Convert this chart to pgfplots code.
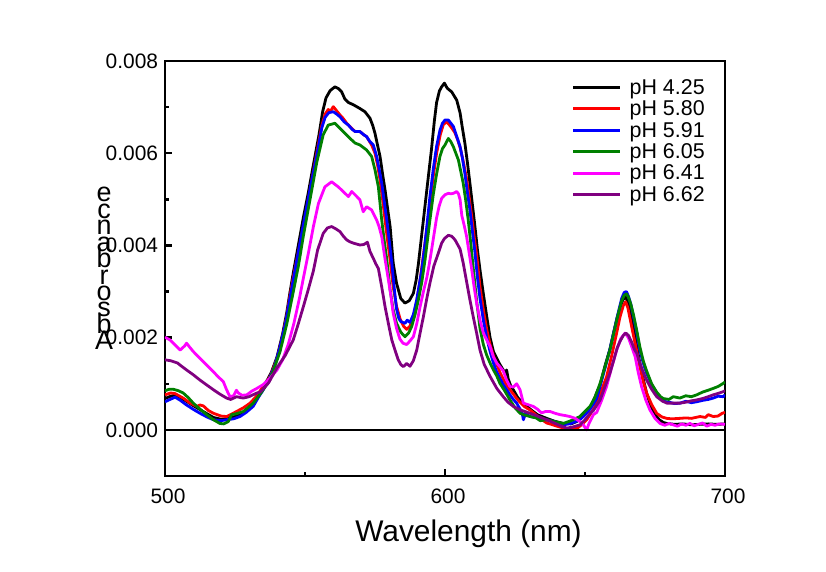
\documentclass[border=0pt]{standalone}
\usepackage{fontspec}
\setmainfont{Liberation Sans}
\usepackage{pgfplots}
\pgfplotsset{compat=1.18}
\definecolor{cgreen}{RGB}{0,128,0}
\definecolor{cpurple}{RGB}{128,0,128}
\definecolor{cmag}{RGB}{255,0,255}
\begin{document}
\begin{tikzpicture}
\useasboundingbox (-165bp,-96bp) rectangle (661bp,476bp);
\begin{axis}[
  at={(0bp,0bp)}, anchor=south west,
  scale only axis, width=560bp, height=415bp,
  xmin=500, xmax=700, ymin=-1, ymax=8,
  axis line style={line width=2.5bp},
  tick align=inside, xtick pos=bottom, ytick pos=left,
  xtick={500,600,700}, minor xtick={550,650},
  ytick={0,2,4,6,8}, yticklabels={0.000,0.002,0.004,0.006,0.008},
  minor ytick={1,3,5,7},
  major tick length=7bp, minor tick length=4bp,
  every tick/.style={black, line width=2.5bp},
  /pgf/number format/assume math mode=true,
  ticklabel style={font=\fontsize{21}{21}\selectfont, inner sep=0pt},
  xticklabel style={yshift=-13bp, xshift=3bp},
  yticklabel style={xshift=-6.7bp},
  xlabel={Wavelength (nm)},
  xlabel style={font=\fontsize{30}{30}\selectfont, at={(axis description cs:0.542,0)}, anchor=base, yshift=-65.7bp, inner sep=0pt},
  legend style={draw=none, fill=none, at={(axis description cs:0.7255,0.9566)}, anchor=north west,
    font=\fontsize{21.5}{21.5}\selectfont, row sep=5bp, inner xsep=0pt, inner ysep=0pt, nodes={inner sep=0pt},
    /tikz/every odd column/.append style={column sep=8bp}},
  legend cell align=left,
  legend image code/.code={\draw[#1, line width=3.2bp] (0bp,0bp) -- (47bp,0bp);},
  every axis plot/.append style={line width=2.8bp, line join=round},
]
\addplot[black] coordinates {(500,0.68)(502,0.73)(503.6,0.75)(505.5,0.70)(507.7,0.62)(510,0.53)(512.5,0.44)(515,0.35)(517.3,0.27)(520,0.23)(522,0.24)(524.5,0.28)(526.8,0.33)(529,0.42)(531.5,0.55)(534,0.82)(536,1.02)(538,1.25)(540,1.58)(542,2.08)(543.5,2.55)(544.6,2.97)(545.8,3.40)(547.6,4.00)(549.4,4.60)(551.2,5.15)(553,5.75)(555,6.40)(556.3,6.90)(557.5,7.20)(559,7.36)(560.7,7.44)(562,7.40)(563.1,7.33)(564.2,7.18)(565.5,7.10)(567.3,7.05)(569.6,6.97)(571.4,6.90)(573.2,6.76)(574.2,6.60)(575,6.43)(576,6.15)(576.8,5.93)(577.7,5.55)(578.6,5.20)(579.5,4.80)(580.4,4.41)(581.5,3.62)(582.7,3.18)(584.2,2.85)(585.7,2.75)(587.2,2.80)(588.7,2.96)(589.7,3.25)(590.5,3.60)(592,4.40)(593.5,5.20)(595.2,6.10)(596.2,6.70)(597,7.10)(598,7.35)(598.8,7.44)(599.8,7.52)(600.8,7.41)(602.4,7.33)(604.2,7.15)(605.4,6.87)(606.2,6.55)(607.1,6.22)(608,5.80)(608.9,5.35)(609.8,4.88)(610.7,4.41)(611.6,3.90)(612.5,3.47)(613.7,2.95)(614.9,2.46)(616.1,2.00)(617.3,1.70)(618.5,1.55)(619.6,1.42)(620.8,1.30)(621.5,1.22)(622,1.30)(622.6,1.10)(623.5,0.95)(624.4,0.87)(626,0.70)(627.5,0.60)(630.4,0.45)(633,0.33)(636.3,0.25)(639,0.19)(642.3,0.14)(645,0.13)(647,0.18)(649.5,0.30)(651.8,0.47)(653.5,0.70)(655.4,0.98)(657.2,1.40)(658.9,1.75)(660.2,2.10)(661.3,2.38)(662.5,2.65)(663.5,2.82)(664.5,2.88)(665.5,2.75)(666.5,2.45)(667.5,2.15)(668.5,1.80)(669.6,1.45)(670.8,1.10)(672,0.80)(673.5,0.52)(675,0.34)(676.5,0.22)(678,0.16)(679.2,0.14)(682,0.12)(685,0.13)(688,0.11)(691,0.12)(694,0.13)(697,0.12)(700,0.13)};
\addlegendentry{pH 4.25}
\addplot[red] coordinates {(500,0.76)(502,0.80)(503.5,0.79)(505,0.74)(506.5,0.69)(509,0.58)(511.3,0.51)(512.5,0.54)(513.7,0.52)(515.5,0.42)(517.3,0.36)(520,0.30)(522,0.29)(524,0.35)(525.6,0.40)(528,0.48)(530.4,0.58)(532.5,0.72)(534,0.85)(536,1.00)(538,1.22)(540,1.55)(542,2.02)(543.5,2.48)(544.6,2.90)(545.8,3.30)(547.6,3.85)(549.4,4.40)(551.8,5.20)(554.2,6.00)(556,6.60)(557.2,6.85)(558.3,6.95)(559,6.90)(560.1,7.01)(561.3,6.92)(562.5,6.83)(563.7,6.75)(564.9,6.65)(566.5,6.55)(567.9,6.47)(569.6,6.47)(571,6.40)(572,6.36)(573.8,6.18)(575,6.00)(575.9,5.75)(576.8,5.42)(577.7,5.00)(578.6,4.55)(579.5,4.10)(580.4,3.69)(581.5,3.10)(582.7,2.68)(584,2.40)(585.2,2.25)(586.3,2.18)(587.5,2.25)(588.7,2.45)(589.9,2.78)(591,3.20)(592.3,3.80)(593.5,4.35)(594.7,4.95)(595.8,5.50)(597,6.00)(598.3,6.40)(599.4,6.62)(600.5,6.68)(601.5,6.62)(602.4,6.55)(603.5,6.45)(604.5,6.30)(605.5,6.10)(606.6,5.80)(607.7,5.45)(608.6,5.05)(609.5,4.65)(610.4,4.20)(611.3,3.80)(612.5,3.10)(613.7,2.60)(614.9,2.18)(616.1,1.85)(617.3,1.60)(618.5,1.42)(619.6,1.25)(621,1.08)(622,0.97)(623.2,0.87)(624.4,0.78)(625.6,0.68)(626.8,0.60)(628.5,0.50)(630.4,0.43)(632,0.35)(634,0.25)(636.3,0.15)(638,0.12)(640,0.08)(642.3,0.04)(644,0.02)(645.8,0.01)(647.5,0.05)(649,0.12)(650.6,0.22)(652,0.35)(653.5,0.50)(655.4,0.78)(657.7,1.15)(659.5,1.60)(661.3,2.10)(662.5,2.45)(663.7,2.70)(664.5,2.78)(665.3,2.65)(666.3,2.35)(667.3,2.05)(668.5,1.70)(669.6,1.37)(670.8,1.05)(672,0.80)(673.8,0.55)(675.6,0.36)(677.5,0.28)(679.2,0.25)(681,0.24)(683.9,0.25)(686,0.26)(688,0.25)(691.1,0.29)(693,0.27)(694,0.33)(695.8,0.29)(697.5,0.30)(699,0.36)(700,0.38)};
\addlegendentry{pH 5.80}
\addplot[blue] coordinates {(500,0.61)(501.8,0.66)(503.6,0.71)(505.5,0.64)(507.7,0.54)(510,0.45)(512.5,0.36)(515,0.28)(517.3,0.22)(520,0.20)(522,0.22)(524.5,0.24)(526.8,0.29)(529,0.38)(531.5,0.51)(533.5,0.72)(535.1,0.87)(537,1.08)(539,1.35)(541,1.78)(543,2.30)(544.6,2.85)(545.8,3.25)(547.6,3.85)(549.4,4.45)(551.8,5.22)(554.2,5.95)(556,6.55)(557.2,6.78)(558.5,6.88)(560.1,6.90)(561.3,6.85)(562.5,6.79)(564,6.68)(565.5,6.61)(566.8,6.52)(567.9,6.47)(569.6,6.47)(571,6.40)(572,6.36)(573.2,6.25)(574.4,6.18)(575.6,5.93)(576.5,5.65)(577.4,5.35)(578.3,4.95)(579.2,4.55)(580.1,4.10)(581,3.62)(582,3.00)(582.7,2.62)(583.5,2.42)(584.2,2.35)(585,2.33)(585.7,2.31)(586.5,2.38)(587.5,2.33)(588.7,2.50)(589.9,2.82)(590.8,3.15)(591.7,3.47)(592.6,3.90)(593.5,4.40)(594.6,5.05)(595.8,5.65)(597,6.15)(598.2,6.50)(599.1,6.65)(600,6.72)(601.2,6.72)(602.1,6.65)(603,6.58)(604.2,6.36)(605.4,6.14)(606.2,5.90)(607.1,5.56)(608,5.15)(608.9,4.77)(609.8,4.30)(610.7,3.85)(611.6,3.30)(612.5,2.85)(613.7,2.38)(614.9,2.00)(616.1,1.70)(617.3,1.45)(618.5,1.25)(619.6,1.12)(620.8,0.98)(622,0.87)(623.2,0.76)(624.4,0.66)(625.6,0.58)(626.8,0.45)(627.5,0.38)(628,0.22)(628.7,0.35)(630.4,0.29)(633,0.26)(636.3,0.22)(639,0.18)(642.3,0.11)(645,0.14)(648.2,0.22)(650,0.33)(651.8,0.45)(653,0.56)(654.2,0.68)(655.4,0.95)(657.2,1.35)(658.9,1.75)(660.2,2.10)(661.3,2.40)(662.3,2.65)(663.1,2.85)(664,2.98)(664.8,3.00)(665.5,2.90)(666.4,2.72)(667.3,2.46)(668.5,2.10)(669.6,1.73)(670.8,1.45)(672,1.23)(673.8,0.98)(675.6,0.80)(677,0.68)(678,0.62)(680,0.60)(682,0.57)(683.9,0.58)(686,0.62)(688,0.59)(689.9,0.61)(692,0.64)(694,0.66)(695.8,0.69)(697.5,0.73)(699.4,0.72)(700,0.76)};
\addlegendentry{pH 5.91}
\addplot[cgreen] coordinates {(500,0.85)(501.5,0.88)(503,0.88)(504.8,0.85)(506.5,0.80)(508.3,0.70)(510.1,0.58)(512.5,0.45)(514.9,0.33)(517.3,0.22)(519.6,0.14)(521,0.13)(522.6,0.18)(523.8,0.33)(525.5,0.35)(528,0.40)(530,0.50)(531.5,0.58)(534,0.78)(536.3,0.98)(538.5,1.25)(541.1,1.70)(543.5,2.30)(545.5,2.90)(547.6,3.54)(549.4,4.20)(551.8,5.00)(554.2,5.80)(556.5,6.40)(558.3,6.61)(560.7,6.65)(562.5,6.54)(564.3,6.43)(566.1,6.32)(567.9,6.22)(569.6,6.18)(572,6.07)(573.8,5.93)(575,5.64)(576.2,5.27)(577.4,4.55)(578.3,4.10)(579.2,3.70)(580.4,3.04)(581.5,2.60)(582.7,2.31)(584.2,2.12)(585.7,2.02)(587,2.10)(588.1,2.24)(589.3,2.50)(590.5,2.82)(591.7,3.20)(592.9,3.70)(594.4,4.45)(595.8,5.10)(597,5.55)(598.2,5.93)(599.1,6.10)(600,6.18)(601.2,6.32)(602.1,6.25)(603,6.14)(604.8,5.85)(606.5,5.35)(607.4,4.98)(608.3,4.55)(609.2,4.05)(610.1,3.50)(611.3,2.80)(612.5,2.20)(613.7,1.85)(614.9,1.62)(616.1,1.45)(617.3,1.30)(618.5,1.17)(619.6,1.01)(621.3,0.85)(623.2,0.65)(625,0.48)(626.8,0.36)(628.5,0.32)(630.4,0.29)(632.5,0.26)(634,0.20)(636.3,0.22)(639,0.18)(642.3,0.14)(645,0.20)(648.2,0.29)(650,0.40)(651.8,0.51)(653.5,0.70)(655.4,1.01)(657.2,1.38)(658.9,1.73)(660.2,2.08)(661.3,2.38)(662.3,2.62)(663.1,2.80)(664,2.92)(664.8,2.95)(665.5,2.88)(666.4,2.72)(667.3,2.50)(668.5,2.15)(669.6,1.80)(670.8,1.50)(672,1.28)(673.8,1.00)(675.6,0.82)(677,0.72)(678,0.68)(680,0.66)(681.5,0.72)(683.9,0.69)(686,0.74)(688,0.72)(689.9,0.76)(692,0.82)(694,0.86)(695.8,0.90)(697.5,0.94)(699.4,1.01)(700,1.04)};
\addlegendentry{pH 6.05}
\addplot[cmag] coordinates {(500,2.01)(501.8,1.95)(503.5,1.85)(505.4,1.73)(507,1.82)(507.7,1.88)(509,1.78)(510.1,1.70)(512,1.58)(513.7,1.48)(515.5,1.37)(517.3,1.26)(519,1.15)(520.8,1.05)(522,0.87)(523.2,0.72)(524.5,0.74)(525.5,0.86)(526.2,0.80)(527.5,0.75)(529.2,0.76)(531,0.84)(532.8,0.90)(535,0.98)(537.5,1.12)(540,1.30)(542,1.52)(544,1.85)(546,2.30)(548,2.85)(550,3.47)(551.2,3.83)(553,4.41)(554.8,4.91)(557.1,5.27)(559.5,5.38)(561.9,5.27)(564.3,5.13)(565.5,5.06)(566.7,5.17)(568.5,5.06)(569.6,4.99)(570.8,4.73)(572,4.84)(573.8,4.77)(575.6,4.55)(576.5,4.40)(577.4,4.19)(578.6,3.70)(579.8,3.25)(580.7,2.90)(581.5,2.53)(582.7,2.20)(583.9,1.97)(585,1.88)(586.3,1.85)(587.5,1.93)(588.7,2.02)(589.9,2.30)(591.1,2.67)(592.3,3.00)(593.5,3.30)(594.4,3.60)(595.2,3.90)(596.1,4.25)(597,4.60)(597.9,4.85)(598.8,5.02)(600,5.10)(601.2,5.13)(602.1,5.12)(603,5.13)(604.2,5.17)(604.8,5.12)(605.4,4.99)(606,4.65)(606.8,4.45)(607.7,4.20)(608.6,3.85)(609.5,3.50)(610.4,3.10)(611.3,2.75)(612.5,2.38)(613.7,2.10)(614.9,1.95)(616.1,1.81)(617.3,1.58)(618.5,1.45)(619.6,1.37)(620.8,1.28)(622,1.08)(623.2,0.94)(624.4,0.93)(625.6,1.00)(626.8,0.87)(628,0.58)(629.5,0.55)(631.5,0.51)(633,0.45)(633.9,0.40)(634.5,0.37)(636,0.40)(637.5,0.40)(639.3,0.36)(641.1,0.33)(643,0.31)(644.6,0.29)(646.5,0.25)(648.2,0.18)(649.5,0.10)(650.6,0.00)(651.5,0.15)(653,0.33)(654.2,0.38)(656,0.65)(657.7,0.94)(659.5,1.35)(661.3,1.73)(662.8,1.98)(664.3,2.10)(665.5,2.00)(666.7,1.80)(667.9,1.59)(669,1.25)(670.2,0.94)(671.7,0.65)(673.2,0.43)(675,0.25)(676.8,0.14)(678.5,0.10)(680,0.14)(681.5,0.11)(683,0.08)(684.5,0.13)(686,0.10)(687.5,0.14)(689,0.09)(690.5,0.12)(692,0.15)(693.5,0.08)(695,0.12)(696.5,0.10)(698,0.13)(700,0.12)};
\addlegendentry{pH 6.41}
\addplot[cpurple] coordinates {(500,1.52)(502,1.50)(503,1.48)(504.5,1.45)(505.5,1.40)(507.7,1.30)(510,1.20)(512.5,1.08)(515,0.97)(517.3,0.87)(519.5,0.78)(522,0.69)(523.5,0.66)(525.6,0.72)(527,0.70)(528,0.69)(530,0.72)(532.8,0.80)(534,0.82)(537,1.02)(540,1.35)(543,1.62)(545.8,1.95)(547.5,2.28)(549.4,2.67)(551.2,3.05)(553,3.45)(554.5,3.90)(556.5,4.26)(558,4.38)(559.5,4.41)(561,4.36)(562.5,4.30)(563.7,4.20)(564.9,4.12)(566,4.08)(567.3,4.05)(569.6,4.01)(571,4.02)(572.3,4.07)(573.2,3.87)(574.4,3.72)(575.3,3.60)(576.2,3.50)(577.4,3.10)(578.6,2.67)(579.8,2.30)(581,1.95)(582.2,1.72)(583.3,1.52)(584.2,1.42)(585.1,1.37)(586.3,1.44)(587.5,1.38)(588.7,1.50)(589.9,1.73)(591.1,2.10)(592.3,2.46)(593.5,2.85)(594.6,3.18)(596,3.55)(597.6,3.83)(598.8,4.05)(599.8,4.15)(601.2,4.22)(602.4,4.20)(603.6,4.12)(604.5,4.02)(605.4,3.92)(606.5,3.62)(607.7,3.22)(608.9,2.82)(610.1,2.45)(611.3,2.10)(612.5,1.73)(614,1.42)(616.1,1.16)(618.5,0.90)(620.8,0.72)(622.5,0.60)(624.4,0.51)(627,0.43)(630.4,0.36)(633,0.30)(636.3,0.22)(639,0.15)(641.5,0.08)(643.5,0.04)(645.5,0.06)(648.2,0.11)(650,0.22)(651.8,0.36)(653,0.42)(655.4,0.65)(657.2,0.95)(658.9,1.23)(660.2,1.50)(661.5,1.78)(662.5,1.92)(663.7,2.05)(664.6,2.10)(665.5,2.05)(666.7,1.90)(667.6,1.75)(668.5,1.66)(669.6,1.45)(670.8,1.25)(672,1.08)(673.8,0.88)(675.6,0.72)(677.5,0.63)(679.2,0.58)(681.5,0.58)(683.9,0.58)(686,0.60)(688,0.63)(689.9,0.65)(692,0.68)(694,0.72)(695.8,0.76)(698,0.80)(699.4,0.83)(700,0.85)};
\addlegendentry{pH 6.62}
\addplot[black, line width=2.5bp, forget plot] coordinates {(500,0) (700,0)};
\end{axis}
\node[font={\fontsize{27}{16.5}\selectfont\lineskiplimit=-50bp}, align=center, anchor=south, inner sep=0pt] at (-61bp,126bp) {e\\c\\n\\a\\b\\r\\o\\s\\b\\A};
\end{tikzpicture}
\end{document}
